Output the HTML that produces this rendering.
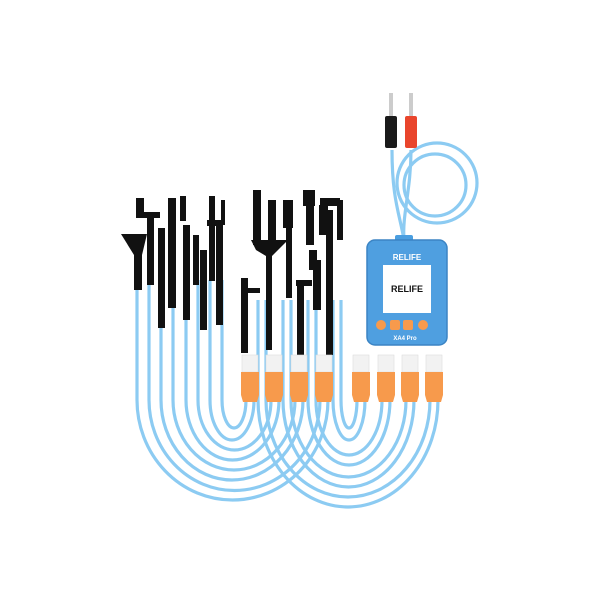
<!DOCTYPE html>
<html><head><meta charset="utf-8"><style>
html,body{margin:0;padding:0;background:#fff;width:600px;height:600px;overflow:hidden}
</style></head><body>
<svg width="600" height="600" viewBox="0 0 600 600" xmlns="http://www.w3.org/2000/svg">
<defs>
<g id="u"><rect x="-8" y="355" width="16" height="17" fill="#f2f2f2" stroke="#ddd" stroke-width="0.6"/><path d="M-9,372 H9 V395 L7,402 H-7 L-9,395 Z" fill="#f79a4c"/></g>
</defs>
<g fill="none" stroke="#8ccbf2" stroke-width="3.2">
<path d="M137,280 V400 A95.5,100 0 0 0 328,400"/>
<path d="M149,280 V400 A85,90 0 0 0 320,400"/>
<path d="M161,280 V400 A71,80 0 0 0 303,400"/>
<path d="M173,280 V400 A61,70 0 0 0 295,400"/>
<path d="M186,280 V400 A46.5,60 0 0 0 279,400"/>
<path d="M198,280 V400 A36.5,50 0 0 0 271,400"/>
<path d="M210,280 V400 A22,40 0 0 0 254,400"/>
<path d="M222,280 V400 A12,28 0 0 0 246,400"/>
<path d="M258,300 V400 A90,107 0 0 0 438,400"/>
<path d="M266,300 V400 A82,97 0 0 0 430,400"/>
<path d="M283,300 V400 A65.5,87 0 0 0 414,400"/>
<path d="M291,300 V400 A57.5,77 0 0 0 406,400"/>
<path d="M308,300 V400 A41,65 0 0 0 390,400"/>
<path d="M316,300 V400 A33,55 0 0 0 382,400"/>
<path d="M333,300 V400 A16,40 0 0 0 365,400"/>
<path d="M341,300 V400 A8,28 0 0 0 357,400"/>
<path d="M392,150 C392,200 400,215 404,240"/>
<path d="M411,150 C411,190 402,215 404,240"/>
<circle cx="437" cy="183" r="40"/>
<circle cx="435" cy="185" r="31"/>
</g>
<g fill="#111">
<path d="M121,234 H147 L142,255 V290 H134 V255 Z"/>
<rect x="136" y="198" width="8" height="20"/>
<rect x="138" y="212" width="22" height="6"/>
<rect x="147" y="215" width="7" height="70"/>
<rect x="158" y="228" width="7" height="100"/>
<rect x="168" y="198" width="8" height="110"/>
<rect x="180" y="196" width="6" height="25"/>
<rect x="183" y="225" width="7" height="95"/>
<rect x="193" y="235" width="6" height="50"/>
<rect x="200" y="250" width="7" height="80"/>
<rect x="209" y="196" width="6" height="85"/>
<rect x="207" y="220" width="16" height="6"/>
<rect x="216" y="225" width="7" height="100"/>
<rect x="221" y="200" width="4" height="25"/>
<rect x="241" y="278" width="7" height="75"/>
<rect x="246" y="288" width="14" height="5"/>
<rect x="253" y="190" width="8" height="55"/>
<path d="M251,240 H288 L272,256 V350 H266 V256 L256,250 Z"/>
<rect x="268" y="200" width="8" height="40"/>
<rect x="283" y="200" width="10" height="28"/>
<rect x="286" y="228" width="6" height="70"/>
<rect x="296" y="280" width="16" height="6"/>
<rect x="297" y="280" width="7" height="75"/>
<rect x="303" y="190" width="12" height="16"/>
<rect x="306" y="205" width="8" height="40"/>
<rect x="309" y="250" width="8" height="20"/>
<rect x="313" y="260" width="8" height="50"/>
<rect x="320" y="198" width="20" height="8"/>
<rect x="319" y="205" width="9" height="30"/>
<rect x="326" y="210" width="7" height="145"/>
<rect x="337" y="200" width="6" height="40"/>
</g>
<use href="#u" x="250"/><use href="#u" x="274"/><use href="#u" x="299"/><use href="#u" x="324"/>
<use href="#u" x="361"/><use href="#u" x="386"/><use href="#u" x="410"/><use href="#u" x="434"/>
<rect x="389" y="93" width="4" height="23" fill="#ccc"/>
<rect x="409" y="93" width="4" height="23" fill="#ccc"/>
<rect x="385" y="116" width="12" height="32" rx="2" fill="#1a1a1a"/>
<rect x="405" y="116" width="12" height="32" rx="2" fill="#e9452c"/>
<rect x="395" y="235" width="18" height="8" rx="2" fill="#4a9ee0"/>
<rect x="367" y="240" width="80" height="105" rx="8" fill="#4f9fe0" stroke="#3b84c4" stroke-width="1.5"/>
<text x="407" y="260" font-family="Liberation Sans, sans-serif" font-size="8" font-weight="bold" fill="#fff" text-anchor="middle">RELIFE</text>
<rect x="383" y="265" width="48" height="48" fill="#fff"/>
<text x="407" y="292" font-family="Liberation Sans, sans-serif" font-size="9" font-weight="bold" fill="#111" text-anchor="middle">RELIFE</text>
<circle cx="381" cy="325" r="5" fill="#f79a4c"/>
<rect x="390" y="320" width="10" height="10" rx="2" fill="#f79a4c"/>
<rect x="403" y="320" width="10" height="10" rx="2" fill="#f79a4c"/>
<circle cx="423" cy="325" r="5" fill="#f79a4c"/>
<text x="405" y="340" font-family="Liberation Sans, sans-serif" font-size="6" font-weight="bold" fill="#fff" text-anchor="middle">XA4 Pro</text>
</svg>
</body></html>
